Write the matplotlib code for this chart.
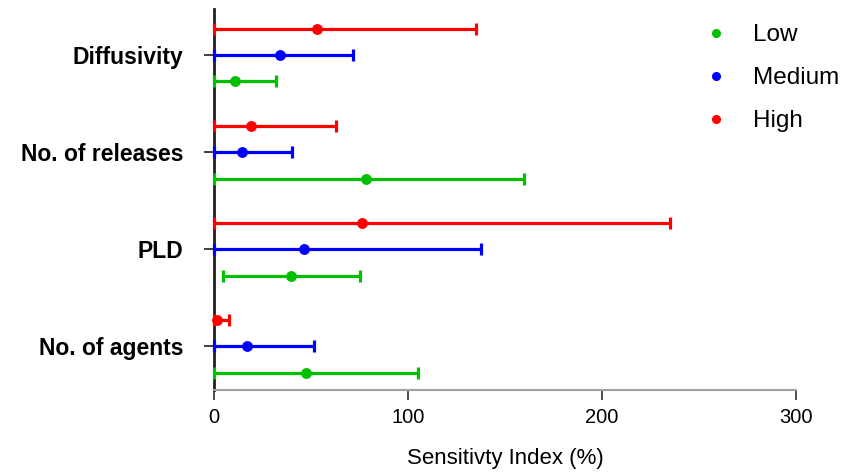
import matplotlib

matplotlib.use("Agg")

import matplotlib.pyplot as plt
import numpy as np
from matplotlib.lines import Line2D

plt.rcParams["font.family"] = ["Liberation Sans", "DejaVu Sans"]

categories = ["No. of agents", "PLD", "No. of releases", "Diffusivity"]
levels = ["Low", "Medium", "High"]
level_colors = ["#00c000", "#0000ff", "#ff0000"]

low_mean = [47.6, 39.7, 78.4, 10.8]
low_lower = [0.0, 4.5, 0.0, 0.0]
low_upper = [105.2, 75.1, 160.0, 32.0]

medium_mean = [17.2, 46.4, 14.4, 34.0]
medium_lower = [0.0, 0.0, 0.0, 0.0]
medium_upper = [51.5, 137.6, 40.4, 71.8]

high_mean = [1.7, 76.5, 19.1, 52.9]
high_lower = [0.0, 0.0, 0.0, 0.0]
high_upper = [7.6, 235.0, 62.9, 135.0]

series = [
    (low_mean, low_lower, low_upper),
    (medium_mean, medium_lower, medium_upper),
    (high_mean, high_lower, high_upper),
]
offsets = [-0.273, 0.0, 0.273]

fig = plt.figure(figsize=(8.45, 4.74), dpi=100)
ax = fig.add_axes([0.2533, 0.177, 0.6887, 0.804])

base = np.arange(len(categories))
for (mean, lower, upper), color, off in zip(series, level_colors, offsets):
    mean = np.array(mean)
    xerr = [mean - np.array(lower), np.array(upper) - mean]
    bars = ax.errorbar(mean, base + off, xerr=xerr, fmt="o", color=color,
                       ecolor=color, markersize=6.8, elinewidth=2.3,
                       capsize=4, capthick=2.3, zorder=3)
    for artist in bars.lines[0:1] + bars.lines[1] + bars.lines[2]:
        if artist is not None:
            artist.set_clip_on(False)

ax.set_xlim(0, 300)
ax.set_ylim(-0.454, 3.474)
ax.set_xticks([0, 100, 200, 300])
ax.set_yticks(base)
ax.set_yticklabels(categories, fontsize=16.5, fontweight="bold")
ax.tick_params(axis="x", labelsize=14.5, length=7, width=1.2, color="#303030",
               direction="out", pad=6)
ax.tick_params(axis="y", length=7, width=1.2, color="#202020", pad=15)
ax.set_xlabel("Sensitivty Index (%)", fontsize=16, labelpad=15)

for side in ("top", "right"):
    ax.spines[side].set_visible(False)
ax.spines["left"].set_color("#202020")
ax.spines["left"].set_linewidth(2.0)
ax.spines["left"].set_zorder(2)
ax.spines["bottom"].set_color("#a0a0a0")
ax.spines["bottom"].set_linewidth(1.5)

handles = [Line2D([], [], marker="o", linestyle="none", color=c, markersize=5.5)
           for c in level_colors]
fig.legend(handles, levels, loc="upper left",
           bbox_to_anchor=(694 / 845, 1 - 24 / 474), frameon=False,
           fontsize=17.5, handlelength=1.8, handletextpad=0.62,
           labelspacing=0.87, borderpad=0, borderaxespad=0)

fig.savefig("out.png", dpi=100)
